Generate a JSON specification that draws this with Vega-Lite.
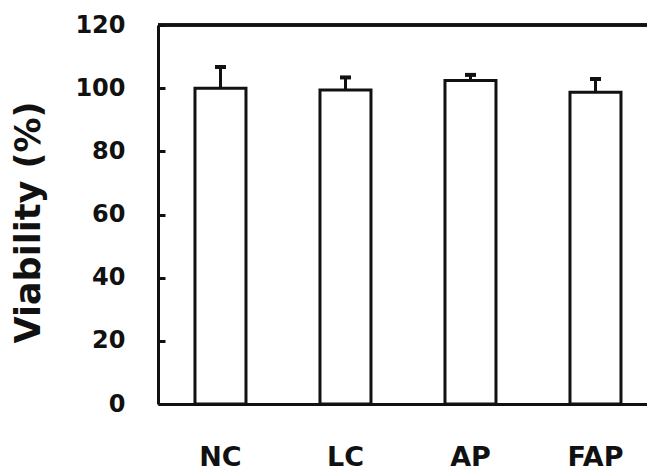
{
  "$schema": "https://vega.github.io/schema/vega-lite/v6.json",
  "autosize": "none",
  "width": 489,
  "height": 379,
  "padding": {"left": 158, "top": 25, "right": 0, "bottom": 67},
  "background": "white",
  "view": {"stroke": null},
  "config": {
    "font": "DejaVu Sans",
    "axis": {"grid": false, "domainColor": "#111", "domainWidth": 3, "tickColor": "#111", "labelColor": "#111", "titleColor": "#111", "labelFont": "DejaVu Sans", "labelFontWeight": "bold", "titleFont": "DejaVu Sans", "titleFontWeight": "bold"}
  },
  "data": {
    "values": [
      {"group": "NC", "viability": 100.0, "upper": 106.7},
      {"group": "LC", "viability": 99.4, "upper": 103.4},
      {"group": "AP", "viability": 102.4, "upper": 104.2},
      {"group": "FAP", "viability": 98.7, "upper": 102.9}
    ]
  },
  "encoding": {
    "x": {
      "field": "group",
      "type": "nominal",
      "sort": ["NC", "LC", "AP", "FAP"],
      "scale": {"paddingInner": 0.592, "paddingOuter": 0.252, "align": 0.587},
      "axis": {"title": null, "labelAngle": 0, "ticks": false, "labelFontSize": 27, "labelPadding": 40}
    }
  },
  "layer": [
    {
      "mark": {"type": "bar", "fill": "white", "stroke": "#111", "strokeWidth": 3},
      "encoding": {
        "y": {
          "field": "viability",
          "type": "quantitative",
          "scale": {"domain": [0, 120], "nice": false},
          "axis": {
            "title": "Viability (%)",
            "values": [0, 20, 40, 60, 80, 100, 120],
            "tickSize": -7,
            "tickWidth": 3,
            "labelFontSize": 24,
            "labelPadding": 40,
            "titleFontSize": 35,
            "titleX": -130,
            "titleY": 197,
            "titleAngle": -90,
            "titleAlign": "center",
            "titleBaseline": "middle"
          }
        }
      }
    },
    {
      "mark": {"type": "rule", "stroke": "#111", "strokeWidth": 3},
      "encoding": {
        "y": {"field": "viability", "type": "quantitative"},
        "y2": {"field": "upper"}
      }
    },
    {
      "mark": {"type": "tick", "color": "#111", "size": 11, "thickness": 4, "opacity": 1},
      "encoding": {
        "y": {"field": "upper", "type": "quantitative"}
      }
    },
    {
      "mark": {"type": "rule", "stroke": "#111", "strokeWidth": 3},
      "encoding": {"y": {"datum": 120}, "x": null}
    }
  ]
}
